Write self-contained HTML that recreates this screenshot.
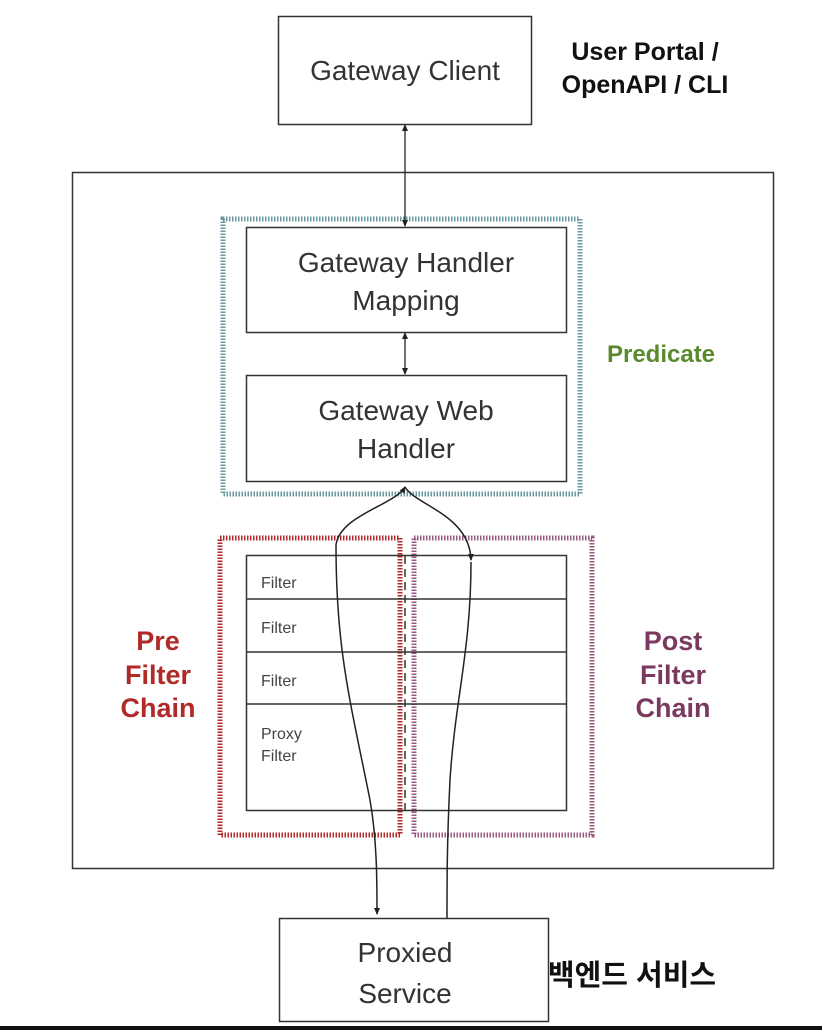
<!DOCTYPE html>
<html><head><meta charset="utf-8"><style>
html,body{margin:0;padding:0;background:#fff;}
svg{display:block;}
text{font-family:"Liberation Sans","Noto Sans CJK KR",sans-serif;}
</style></head><body>
<svg width="822" height="1030" viewBox="0 0 822 1030" xmlns="http://www.w3.org/2000/svg">
<defs>
<marker id="a" markerWidth="8" markerHeight="8" refX="6" refY="4" orient="auto-start-reverse" markerUnits="userSpaceOnUse"><path d="M0,1 L7,4 L0,7 z" fill="#222"/></marker>
</defs>
<rect x="0" y="0" width="822" height="1030" fill="#fff"/>
<rect x="278.5" y="16.5" width="253" height="108" fill="none" stroke="#333" stroke-width="1.5"/>
<text x="405" y="80" font-size="28" text-anchor="middle" fill="#333">Gateway Client</text>
<text x="645" y="60" font-size="25" font-weight="bold" text-anchor="middle" fill="#111">User Portal /</text>
<text x="645" y="93" font-size="25" font-weight="bold" text-anchor="middle" fill="#111">OpenAPI / CLI</text>
<rect x="72.5" y="172.5" width="701" height="696" fill="none" stroke="#333" stroke-width="1.5"/>
<rect x="223" y="219" width="357" height="275" fill="none" stroke="#6a9aa0" stroke-width="5" stroke-dasharray="1.5 1.5"/>
<rect x="246.5" y="227.5" width="320" height="105" fill="#fff" stroke="#333" stroke-width="1.5"/>
<text x="406" y="272" font-size="28" text-anchor="middle" fill="#333">Gateway Handler</text>
<text x="406" y="310" font-size="28" text-anchor="middle" fill="#333">Mapping</text>
<rect x="246.5" y="375.5" width="320" height="106" fill="#fff" stroke="#333" stroke-width="1.5"/>
<text x="406" y="420" font-size="28" text-anchor="middle" fill="#333">Gateway Web</text>
<text x="406" y="458" font-size="28" text-anchor="middle" fill="#333">Handler</text>
<text x="661" y="362" font-size="24" font-weight="bold" text-anchor="middle" fill="#5a8a2e">Predicate</text>
<line x1="405" y1="125" x2="405" y2="226" stroke="#222" stroke-width="1.3" marker-start="url(#a)" marker-end="url(#a)"/>
<line x1="405" y1="333" x2="405" y2="374" stroke="#222" stroke-width="1.3" marker-start="url(#a)" marker-end="url(#a)"/>
<rect x="220" y="538" width="180" height="297" fill="none" stroke="#b02a2a" stroke-width="5" stroke-dasharray="1.5 1.5"/>
<rect x="414" y="538" width="178" height="297" fill="none" stroke="#9a5a80" stroke-width="5" stroke-dasharray="1.5 1.5"/>
<rect x="246.5" y="555.5" width="320" height="255" fill="none" stroke="#333" stroke-width="1.5"/>
<line x1="246" y1="599" x2="566" y2="599" stroke="#333" stroke-width="1.5"/>
<line x1="246" y1="652" x2="566" y2="652" stroke="#333" stroke-width="1.5"/>
<line x1="246" y1="704" x2="566" y2="704" stroke="#333" stroke-width="1.5"/>
<line x1="405" y1="556" x2="405" y2="810" stroke="#333" stroke-width="1.5" stroke-dasharray="8 5"/>
<text x="261" y="588" font-size="16" fill="#444">Filter</text>
<text x="261" y="633" font-size="16" fill="#444">Filter</text>
<text x="261" y="686" font-size="16" fill="#444">Filter</text>
<text x="261" y="739" font-size="16" fill="#444">Proxy</text>
<text x="261" y="761" font-size="16" fill="#444">Filter</text>
<text x="158" y="650" font-size="27" font-weight="bold" text-anchor="middle" fill="#b02a2a">Pre</text>
<text x="158" y="684" font-size="27" font-weight="bold" text-anchor="middle" fill="#b02a2a">Filter</text>
<text x="158" y="717" font-size="27" font-weight="bold" text-anchor="middle" fill="#b02a2a">Chain</text>
<text x="673" y="650" font-size="27" font-weight="bold" text-anchor="middle" fill="#7a3a60">Post</text>
<text x="673" y="684" font-size="27" font-weight="bold" text-anchor="middle" fill="#7a3a60">Filter</text>
<text x="673" y="717" font-size="27" font-weight="bold" text-anchor="middle" fill="#7a3a60">Chain</text>
<path d="M405,487 C395,505 340,515 336,545" fill="none" stroke="#222" stroke-width="1.5" marker-start="url(#a)"/>
<path d="M336,545 C336,650 350,700 370,800 C377,840 377,880 377,914" fill="none" stroke="#222" stroke-width="1.5" marker-end="url(#a)"/>
<path d="M405,487 C415,505 470,515 471,560" fill="none" stroke="#222" stroke-width="1.5" marker-end="url(#a)"/>
<path d="M471,562 C471,650 455,700 450,780 C447,840 447,880 447,918" fill="none" stroke="#222" stroke-width="1.5"/>
<rect x="279.5" y="918.5" width="269" height="103" fill="#fff" stroke="#333" stroke-width="1.5"/>
<text x="405" y="962" font-size="28" text-anchor="middle" fill="#333">Proxied</text>
<text x="405" y="1003" font-size="28" text-anchor="middle" fill="#333">Service</text>
<text x="632" y="985" font-size="29" font-weight="bold" text-anchor="middle" fill="#111">백엔드 서비스</text>
<rect x="0" y="1026" width="822" height="4" fill="#111"/>
</svg>
</body></html>
